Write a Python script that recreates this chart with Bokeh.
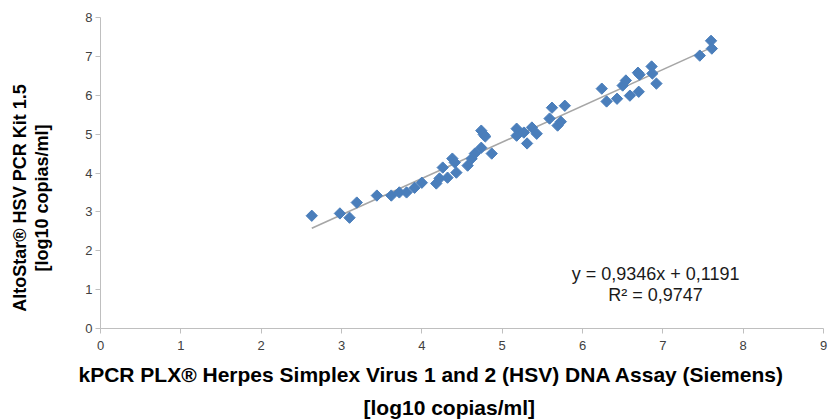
import math
from bokeh.plotting import figure
from bokeh.models import Label, ColumnDataSource, Title
from bokeh.embed import file_html
from bokeh.resources import INLINE

# data (log10 copies/ml)
x_kpcr = [2.63, 2.98, 3.10, 3.19, 3.44, 3.62, 3.72, 3.81, 3.91, 4.00,
          4.18, 4.22, 4.26, 4.32, 4.38, 4.41, 4.43, 4.57, 4.62, 4.66,
          4.74, 4.74, 4.77, 4.79, 4.87, 5.18, 5.18, 5.27, 5.31, 5.37,
          5.43, 5.59, 5.62, 5.69, 5.73, 5.78, 6.24, 6.30, 6.43, 6.50,
          6.54, 6.59, 6.69, 6.71, 6.70, 6.86, 6.87, 6.92, 7.46, 7.60, 7.61]
y_alto = [2.90, 2.96, 2.85, 3.24, 3.42, 3.42, 3.50, 3.50, 3.62, 3.75,
          3.73, 3.86, 4.14, 3.88, 4.37, 4.27, 4.01, 4.19, 4.37, 4.50,
          4.65, 5.09, 4.99, 4.94, 4.50, 5.14, 4.96, 5.04, 4.76, 5.17,
          5.01, 5.40, 5.68, 5.22, 5.32, 5.73, 6.17, 5.84, 5.91, 6.25,
          6.38, 5.99, 6.58, 6.53, 6.09, 6.74, 6.56, 6.30, 7.02, 7.40, 7.20]

slope = 0.9346
intercept = 0.1191
r2_text = "R² = 0,9747"
eq_text = "y = 0,9346x + 0,1191"

x_title = ["kPCR PLX® Herpes Simplex Virus 1 and 2 (HSV) DNA Assay (Siemens)",
           "[log10 copias/ml]"]
y_title = ["AltoStar® HSV PCR Kit 1.5", "[log10 copias/ml]"]

x_ticks = list(range(0, 10))
y_ticks = list(range(0, 9))

FONT = "Liberation Sans"
NB = "\u00a0"

p = figure(width=828, height=420, x_range=(0, 9), y_range=(0, 8),
           output_backend="svg", toolbar_location=None,
           min_border_left=100, min_border_right=5,
           min_border_top=17, min_border_bottom=92)
p.outline_line_color = None
p.xgrid.grid_line_color = None
p.ygrid.grid_line_color = None

# trendline
x0, x1 = min(x_kpcr), max(x_kpcr)
p.line([x0, x1], [slope * x0 + intercept, slope * x1 + intercept],
       line_color="#a6a6a6", line_width=1.6)

src = ColumnDataSource(dict(x=x_kpcr, y=y_alto))
p.scatter("x", "y", source=src, marker="square", angle=math.pi / 4, size=8,
          fill_color="#4a7ebb", line_color="#4a7ebb")

for ax in (p.xaxis[0], p.yaxis[0]):
    ax.axis_line_color = "#bfbfbf"
    ax.major_tick_line_color = "#bfbfbf"
    ax.minor_tick_line_color = None
    ax.major_tick_in = 0
    ax.major_tick_out = 5
    ax.major_label_text_font = FONT
    ax.major_label_text_font_size = "13px"
    ax.major_label_text_color = "#404040"
    ax.axis_label_text_font = FONT
    ax.axis_label_text_font_style = "bold"
    ax.axis_label_text_color = "#000000"

p.xaxis.ticker = x_ticks
p.yaxis.ticker = y_ticks
p.xaxis.major_label_standoff = 7
p.yaxis.major_label_standoff = 3

# y title: trailing no-break spaces shift the centred text down like the original
p.yaxis.axis_label = "\n".join(t + NB * 10 for t in y_title)
p.yaxis.axis_label_text_font_size = "18px"
p.yaxis.axis_label_text_line_height = 1.1
p.yaxis.axis_label_standoff = 30

# x title as two left-aligned titles below the axis, placed like the original
for txt, so, off in zip(x_title, [16, 0], [-22, 263]):
    p.add_layout(Title(text=txt, align="left", offset=off, standoff=so,
                       text_font=FONT, text_font_style="bold",
                       text_font_size="21px", text_color="#000000"), "below")

p.add_layout(Label(x=6.91, y=1.41, text=eq_text, text_align="center",
                   text_baseline="middle", text_font=FONT,
                   text_font_size="18px", text_color="#1a1a1a"))
p.add_layout(Label(x=6.91, y=0.87, text=r2_text, text_align="center",
                   text_baseline="middle", text_font=FONT,
                   text_font_size="18px", text_color="#1a1a1a"))

open("out.html", "w").write(file_html(p, INLINE))
